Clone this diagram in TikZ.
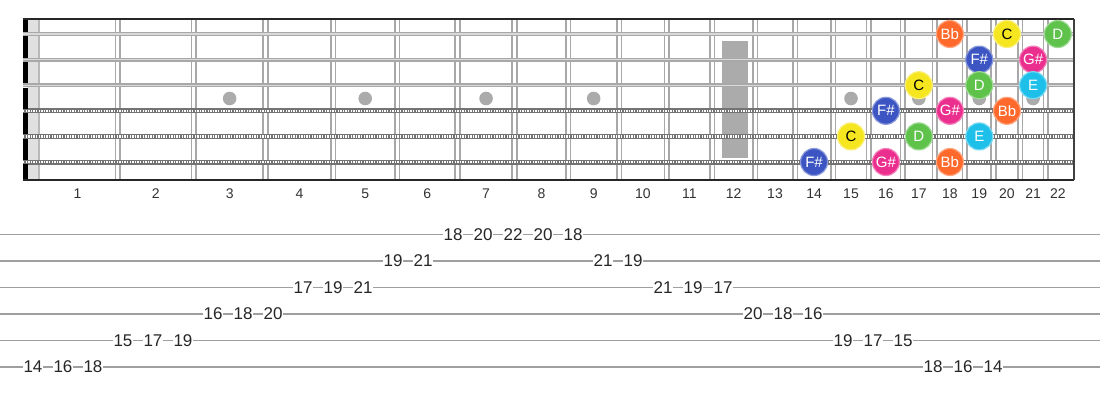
\documentclass[tikz,border=0pt]{standalone}
\usepackage{fontspec}
\setmainfont{Liberation Sans}

\definecolor{noteBb}{HTML}{FF6A2C}
\definecolor{noteC}{HTML}{F6E620}
\definecolor{noteD}{HTML}{5EC24B}
\definecolor{noteE}{HTML}{1EC0EA}
\definecolor{noteFs}{HTML}{3C55C2}
\definecolor{noteGs}{HTML}{EB2F8E}
\definecolor{wire}{HTML}{A8A8A8}
\definecolor{inlay}{HTML}{ABABAB}

\tikzset{
  declare function={fw(\n)=37.5+1435*(1-pow(2,-\n/12)); fm(\n)=(fw(\n-1)+fw(\n))/2; sy(\s)=34+25.6*(\s-1); ty(\s)=234.5+26.5*(\s-1);},
  note/.style={circle,minimum size=27pt,inner sep=0pt,line width=1.2pt,font=\fontsize{15}{15}\selectfont},
  fretnum/.style={inner sep=0pt,font=\fontsize{14}{14}\selectfont,text=black!80},
  tabnum/.style={fill=white,inner sep=0.6pt,font=\fontsize{17}{17}\selectfont,text=black!85},
  plainstr/.style={line width=4pt,draw=wire},
  woundstr/.style={line width=5pt,draw=black!55},
}

\begin{document}
\begin{tikzpicture}[x=1pt,y=-1pt]
  \useasboundingbox[fill=white] (0,0) rectangle (1100,400);

  % inlays
  \foreach \f in {3,5,7,9,15,17,19,21}
    \fill[inlay] ({fm(\f)},98.5) circle (6.8);
  \fill[inlay] (722,40.5) rectangle (748,158);

  % frets
  \foreach \f in {1,...,21}
    \draw[wire,line width=1.6pt] ({fw(\f)-2.3},19) -- ({fw(\f)-2.3},180)
                                 ({fw(\f)+2.3},19) -- ({fw(\f)+2.3},180);

  % nut
  \fill[black!12] (27,19) rectangle (40,180);
  \draw[gray!55,line width=2pt] (38.5,19) -- (38.5,180);

  % strings
  \foreach \s in {1,2,3} {
    \draw[plainstr] (23,{sy(\s)}) -- (1073,{sy(\s)});
    \draw[black!15,line width=1.2pt] (23,{sy(\s)}) -- (1073,{sy(\s)});
  }
  \foreach \s in {4,5,6} {
    \draw[woundstr] (23,{sy(\s)}) -- (1073,{sy(\s)});
    \draw[white,line width=2.4pt,dash pattern=on 1.3pt off 1.3pt] (23,{sy(\s)}) -- (1073,{sy(\s)});
  }

  % board edges
  \foreach \a/\b in {19/32,36/58,62/83,88/109,113/134,139/160,164/180}
    \fill[black] (23,\a) rectangle (27.5,\b);
  \draw[black!85,line width=1.6pt] (23,19) -- (1074,19);
  \draw[black!85,line width=2pt] (23,180) -- (1074,180);
  \draw[black!75,line width=1.6pt] (1074,19) -- (1074,180);

  % fret numbers
  \foreach \f in {1,...,22}
    \node[fretnum] (fn\f) at ({fm(\f)},194) {\f};

  % scale notes
  \foreach \s/\f/\nm/\c/\tc in {1/18/Bb/noteBb/white, 1/20/C/noteC/black, 1/22/D/noteD/white,
      2/19/F\#/noteFs/white, 2/21/G\#/noteGs/white,
      3/17/C/noteC/black, 3/19/D/noteD/white, 3/21/E/noteE/white,
      4/16/F\#/noteFs/white, 4/18/G\#/noteGs/white, 4/20/Bb/noteBb/white,
      5/15/C/noteC/black, 5/17/D/noteD/white, 5/19/E/noteE/white,
      6/14/F\#/noteFs/white, 6/16/G\#/noteGs/white, 6/18/Bb/noteBb/white}
    \node[note,fill=\c,draw=\c!60!white,text=\tc] (n\s-\f) at ({fm(\f)},{sy(\s)}) {\nm};

  % tab
  \foreach \s in {1,...,6}
    \draw[gray!75,line width=1.4pt] (0,{ty(\s)}) -- (1100,{ty(\s)});
  \foreach \s/\f [count=\k from 0] in {6/14,6/16,6/18,5/15,5/17,5/19,4/16,4/18,4/20,
      3/17,3/19,3/21,2/19,2/21,1/18,1/20,1/22,1/20,1/18,2/21,2/19,
      3/21,3/19,3/17,4/20,4/18,4/16,5/19,5/17,5/15,6/18,6/16,6/14}
    \node[tabnum] (t\k) at ({33+30*\k},{ty(\s)}) {\f};
\end{tikzpicture}
\end{document}
